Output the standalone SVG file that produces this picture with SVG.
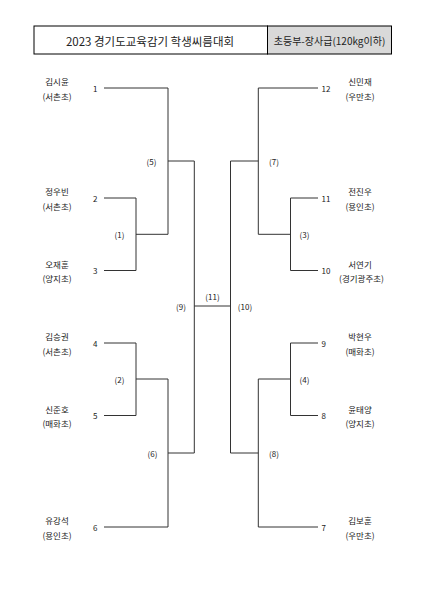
<svg xmlns="http://www.w3.org/2000/svg" width="424" height="600" viewBox="0 0 424 600">
<style>
text{font-family:"Noto Sans CJK KR","Noto Sans",sans-serif;fill:#222;dominant-baseline:central}
.nm{font-size:8.5px;text-anchor:middle}
.num{font-size:8px}
.l{text-anchor:end}
.r{text-anchor:start}
.m{font-size:8px;text-anchor:middle}
.ln{fill:none;stroke:#333;stroke-width:1}
</style>
<rect width="424" height="600" fill="#fff"/>
<g id="title">
<rect x="34" y="26" width="233.5" height="28" fill="#fff" stroke="#000" stroke-width="1"/>
<rect x="267.5" y="26" width="124" height="28" fill="#d9d9d9" stroke="#000" stroke-width="1"/>
<text x="150" y="40.5" style="font-size:11.5px;text-anchor:middle">2023 경기도교육감기 학생씨름대회</text>
<text x="329.5" y="40.5" style="font-size:10px;text-anchor:middle">초등부-장사급(120kg이하)</text>
</g>
<g id="connectors" class="ln">
<path d="M104,88H168V234.3"/>
<path d="M104,198H136V270.5H104"/>
<path d="M136,234.3H168"/>
<path d="M168,161H194.3"/>
<path d="M104,343H136V415.5H104"/>
<path d="M136,379H168V527H104"/>
<path d="M168,453H194.3V161"/>
<path d="M194.3,306H230.5"/>
<path d="M318,88H258.3V234.3"/>
<path d="M318,198H290.5V270.5H318"/>
<path d="M290.5,234.3H258.3"/>
<path d="M258.3,161H230.5V453"/>
<path d="M318,343H290.5V415.5H318"/>
<path d="M290.5,379H258.3V527H318"/>
<path d="M258.3,453H230.5"/>
</g>
<g id="p1"><text class="nm" x="57" y="81">김시윤</text><text class="nm" x="57" y="95.5">(서촌초)</text><text class="num l" x="97.5" y="88">1</text></g>
<g id="p2"><text class="nm" x="57" y="191">정우빈</text><text class="nm" x="57" y="205.5">(서촌초)</text><text class="num l" x="97.5" y="198">2</text></g>
<g id="p3"><text class="nm" x="57" y="263.5">오재훈</text><text class="nm" x="57" y="278">(양지초)</text><text class="num l" x="97.5" y="270.5">3</text></g>
<g id="p4"><text class="nm" x="57" y="336">김승권</text><text class="nm" x="57" y="350.5">(서촌초)</text><text class="num l" x="97.5" y="343">4</text></g>
<g id="p5"><text class="nm" x="57" y="408.5">신준호</text><text class="nm" x="57" y="423">(매화초)</text><text class="num l" x="97.5" y="415.5">5</text></g>
<g id="p6"><text class="nm" x="57" y="520">유강석</text><text class="nm" x="57" y="534.5">(용인초)</text><text class="num l" x="97.5" y="527">6</text></g>
<g id="p12"><text class="nm" x="360" y="81">신민재</text><text class="nm" x="360" y="95.5">(우만초)</text><text class="num r" x="321.5" y="88">12</text></g>
<g id="p11"><text class="nm" x="360" y="191">전진우</text><text class="nm" x="360" y="205.5">(용인초)</text><text class="num r" x="321.5" y="198">11</text></g>
<g id="p10"><text class="nm" x="360" y="263.5">서연기</text><text class="nm" x="361.5" y="278">(경기광주초)</text><text class="num r" x="321.5" y="270.5">10</text></g>
<g id="p9"><text class="nm" x="360" y="336">박현우</text><text class="nm" x="360" y="350.5">(매화초)</text><text class="num r" x="321.5" y="343">9</text></g>
<g id="p8"><text class="nm" x="360" y="408.5">윤태양</text><text class="nm" x="360" y="423">(양지초)</text><text class="num r" x="321.5" y="415.5">8</text></g>
<g id="p7"><text class="nm" x="360" y="520">김보훈</text><text class="nm" x="360" y="534.5">(우만초)</text><text class="num r" x="321.5" y="527">7</text></g>
<g id="m1"><text class="m" x="119.5" y="234.3">(1)</text></g>
<g id="m2"><text class="m" x="119.5" y="379">(2)</text></g>
<g id="m3"><text class="m" x="304.5" y="234.3">(3)</text></g>
<g id="m4"><text class="m" x="304.5" y="379">(4)</text></g>
<g id="m5"><text class="m" x="151.5" y="161">(5)</text></g>
<g id="m6"><text class="m" x="152.5" y="453">(6)</text></g>
<g id="m7"><text class="m" x="274" y="161">(7)</text></g>
<g id="m8"><text class="m" x="274" y="453">(8)</text></g>
<g id="m9"><text class="m" x="181" y="306">(9)</text></g>
<g id="m10"><text class="m" x="245" y="306">(10)</text></g>
<g id="m11"><text class="m" x="212.5" y="296">(11)</text></g>
</svg>
